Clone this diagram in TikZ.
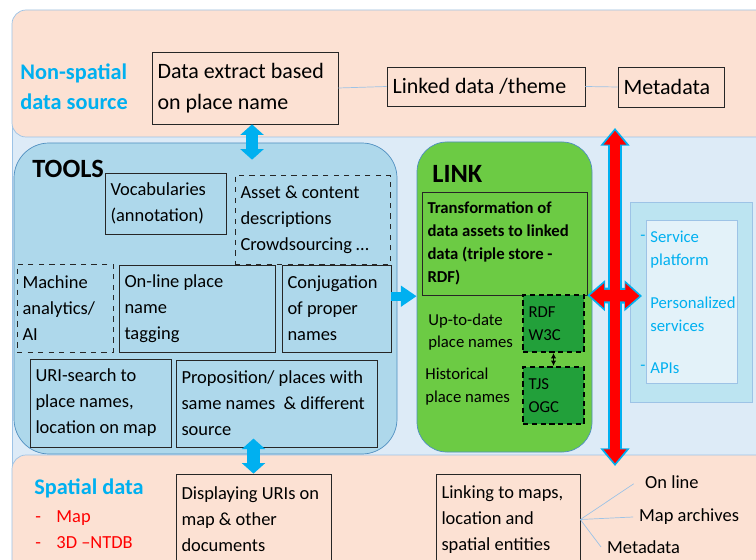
\documentclass[tikz,border=0pt]{standalone}
\usepackage{fontspec}
\setmainfont{Carlito}
\usetikzlibrary{arrows.meta}

\definecolor{peach}{HTML}{FCE1D3}
\definecolor{paleblue}{HTML}{DDEBF7}
\definecolor{toolblue}{HTML}{AED8EB}
\definecolor{edgeblue}{HTML}{4F8FC0}
\definecolor{linegray}{HTML}{9DC3E6}
\definecolor{linkgreen}{HTML}{6CCB44}
\definecolor{stdgreen}{HTML}{22A03A}
\definecolor{skyc}{HTML}{00B0F0}
\definecolor{dropblue}{HTML}{BCE4F1}
\definecolor{innerblue}{HTML}{E3F2F9}

\newcommand{\px}{0.02cm}

\begin{document}
\begin{tikzpicture}[x=0.02cm,y=-0.02cm,
  box/.style={draw=black!85,align=flush left,inner sep=0pt},
  dbox/.style={box,dashed},
  boxw/.style={minimum width=#1*\px,
    /utils/exec={\pgfmathsetlengthmacro\boxtw{(#1-11)*0.5690551pt}},
    text width=\boxtw},
  lbl/.style={anchor=west,inner sep=0pt,align=left},
  txtbig/.style={font=\fontsize{12.5}{18}\selectfont},
  txtmid/.style={font=\fontsize{10.5}{14.8}\selectfont},
  txtsmall/.style={font=\fontsize{9.5}{13}\selectfont},
  txthead/.style={font=\fontsize{15}{18}\selectfont\bfseries},
  cyanarr/.style={draw=skyc,line width=7pt,>={Triangle[width=13pt,length=6pt]}},
  redrim/.style={draw=skyc,line width=8pt},
  redcore/.style={draw=red,line width=5.7pt,shorten >=1.5pt,shorten <=1.5pt}]

\clip (0,0) rectangle (756,560);
\fill[white] (0,0) rectangle (756,560);

% backdrops
\draw[fill=paleblue,draw=linegray] (12,120) rectangle (790,480);
\draw[fill=peach,draw=linegray,rounded corners=8pt] (12,10) rectangle (800,137);
\draw[fill=peach,draw=linegray,rounded corners=8pt] (12,455) rectangle (800,620);

% non-spatial data source
\node[lbl,font=\fontsize{12.7}{17}\selectfont\bfseries,text=skyc] (nsds) at (20,87) {Non-spatial\\data source};
\node[box,txtbig,boxw=186,minimum height=72*\px] (datax) at (245,88) {Data extract based\\on place name};
\node[box,txtbig,boxw=198,minimum height=39*\px] (linked) at (486,86.5) {Linked data /theme};
\node[box,txtbig,boxw=106,minimum height=40*\px] (meta) at (671,87) {Metadata};
\draw[linegray] (datax.east) -- (linked.west);
\draw[linegray] (linked.east) -- (meta.west);

% tools
\node[fill=toolblue,draw=edgeblue,rounded corners=20pt,minimum width=383*\px,minimum height=311*\px] (tools) at (205.5,298.5) {};
\node[lbl,txthead] (toolslbl) at (32,168.5) {TOOLS};
\node[box,txtmid,boxw=121,minimum height=61*\px] (voc) at (165.5,203.5) {Vocabularies\\(annotation)};
\node[dbox,txtmid,boxw=155,minimum height=89*\px] (asset) at (312.5,219.5) {Asset \& content\\descriptions\\Crowdsourcing …};
\node[dbox,txtmid,boxw=96,minimum height=88*\px] (mach) at (65,308) {Machine\\analytics/\\AI};
\node[box,txtmid,boxw=156,minimum height=87*\px] (online) at (197,308.5) {On-line place\\name\\tagging};
\node[box,txtmid,boxw=109,minimum height=87*\px] (conj) at (336.5,308.5) {Conjugation\\of proper\\names};
\node[box,txtmid,boxw=141,minimum height=88*\px] (uri) at (100.5,403) {URI-search to\\place names,\\location on map};
\node[box,txtmid,boxw=201,minimum height=87*\px] (prop) at (276.5,403.5) {Proposition/ places with\\same names~ \& different\\source};

% link
\node[fill=linkgreen,draw=edgeblue,rounded corners=17pt,minimum width=175*\px,minimum height=310*\px] (link) at (504.5,297) {};
\node[lbl,txthead] (linklbl) at (432,173.5) {LINK};
\node[box,font=\fontsize{9.5}{13}\selectfont\bfseries,boxw=165,minimum height=103*\px] (trans) at (504.5,243.5) {Transformation of\\data assets to linked\\data (triple store -\\RDF)};
\node[box,txtsmall,fill=stdgreen,draw=black,line width=1.2pt,dash pattern=on 3pt off 2pt,boxw=61,minimum height=57*\px] (rdf) at (553.5,323.5) {RDF\\W3C};
\node[box,txtsmall,fill=stdgreen,draw=black,line width=1.2pt,dash pattern=on 3pt off 2pt,boxw=61,minimum height=57*\px] (tjs) at (553.5,395.5) {TJS\\OGC};
\node[lbl,txtsmall] (uptd) at (428,332) {Up-to-date\\place names};
\node[lbl,txtsmall] (hist) at (425,386.5) {Historical\\place names};
\draw[<->,>={Latex[length=3pt,width=3pt]},thick] (rdf.south) -- (tjs.north);

% services
\node[fill=dropblue,draw=linegray,minimum width=122*\px,minimum height=200*\px] (svc) at (691,302) {};
\node[fill=innerblue,draw=linegray,minimum width=91*\px,minimum height=163*\px] (svcin) at (691.5,301.5) {};
\node[lbl,txtsmall,text=skyc] (dash1) at (640,238) {-};
\node[lbl,txtsmall,text=skyc] (dash2) at (640,368) {-};
\node[lbl,txtsmall,text=skyc] (platf) at (650,250) {Service\\platform};
\node[lbl,txtsmall,text=skyc] (pers) at (650,314.5) {Personalized\\services};
\node[lbl,txtsmall,text=skyc] (apis) at (650,368) {APIs};

% spatial data
\node[lbl,font=\fontsize{12.7}{17}\selectfont\bfseries,text=skyc] (spatial) at (34,488) {Spatial data};
\node[lbl,txtmid,text=red] (maps) at (35,530) {\makebox[12pt][l]{-}Map\\\makebox[12pt][l]{-}3D –NTDB};
\node[box,txtmid,boxw=155,minimum height=91*\px] (disp) at (253.5,519.5) {Displaying URIs on\\map \& other\\documents};
\node[box,txtmid,boxw=144,minimum height=91*\px] (linking) at (508,519.5) {Linking to maps,\\location and\\spatial entities};
\node[txtmid,anchor=west] (onl) at (639,482) {On line};
\node[txtmid,anchor=west] (march) at (633,517) {Map archives};
\node[txtmid,anchor=west] (metab) at (601,547) {Metadata};
\draw[linegray] (linking.east) -- ([xshift=-3pt,yshift=-1pt]onl.west);
\draw[linegray] (linking.east) -- (march.west);
\draw[linegray] (linking.east) -- (metab.west);

% blue arrows
\draw[cyanarr,<->] ([xshift=4pt]datax.south) -- ([xshift=4pt,yshift=-9.7pt]datax.south |- tools.north);
\draw[cyanarr,<->] ([yshift=5pt]disp.north |- prop.south) -- (disp.north);
\draw[cyanarr,line width=5pt,->,>={Triangle[width=11.5pt,length=9pt]}] ([yshift=7pt]conj.east) -- ([yshift=7pt]link.west |- conj.east);

% red arrows
\coordinate (rtop) at (615,128);
\coordinate (rbot) at (615,466);
\coordinate (rright) at (642,296);
\draw[redrim,<->,>={Triangle[width=16pt,length=10pt]}] (rtop) -- (rbot);
\draw[redrim,line width=9pt,<->,>={Triangle[width=17pt,length=10pt]}] (trans.south east) -- (rright);
\draw[redcore,<->,>={Triangle[width=12.5pt,length=8pt]}] (rtop) -- (rbot);
\draw[redcore,line width=6.5pt,<->,>={Triangle[width=13.5pt,length=8pt]}] (trans.south east) -- (rright);

\end{tikzpicture}
\end{document}
